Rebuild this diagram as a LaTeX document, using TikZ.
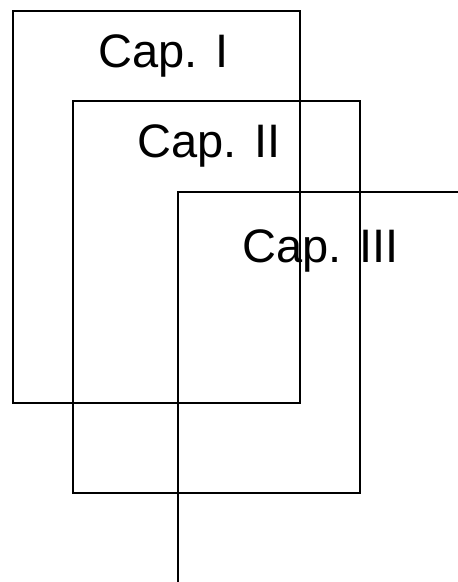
\documentclass[tikz,border=0pt]{standalone}
\usepackage{fontspec}
\setmainfont{Liberation Sans}
\begin{document}
\begin{tikzpicture}[x=1pt,y=1pt,
  capbox/.style={draw, line width=2pt, inner sep=0pt, minimum width=#1},
  caplabel/.style={anchor=base, inner sep=0pt, font=\fontsize{47}{50}\selectfont}]
\useasboundingbox (0,0) rectangle (458,582);
% Box I
\node[draw, line width=2pt, inner sep=0pt, minimum width=287pt, minimum height=392pt] (b1) at (156.5,375) {};
% Box II
\node[draw, line width=2pt, inner sep=0pt, minimum width=287pt, minimum height=392pt] (b2) at (216.5,285) {};
% Box III (open)
\coordinate (c3) at (178,390);
\coordinate (c3r) at (460,390);
\coordinate (c3b) at (178,-2);
\draw[line width=2pt] (c3r) -- (c3) -- (c3b);
% Labels
\node[caplabel] (t1) at (163.5,514) {Cap. I};
\node[caplabel] (t2) at (209,424) {Cap. II};
\node[caplabel] (t3) at (320.5,319) {Cap. III};
\end{tikzpicture}
\end{document}
